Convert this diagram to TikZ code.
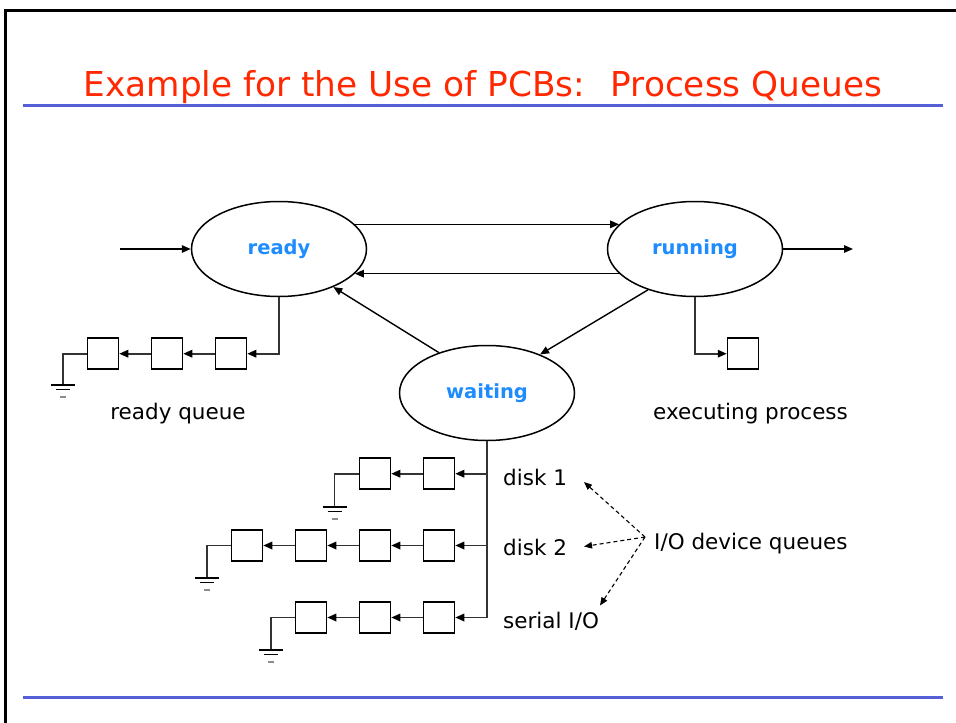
\documentclass[tikz,border=0pt]{standalone}
\usepackage{fontspec}
\setmainfont{DejaVu Sans}
\usetikzlibrary{arrows.meta,shapes.geometric}
\definecolor{titlered}{RGB}{255,40,0}
\definecolor{stateblue}{RGB}{30,140,255}
\definecolor{rulemid}{RGB}{85,95,215}
\begin{document}
\begin{tikzpicture}[x=1pt,y=-1pt,
  state/.style={draw,ellipse,line width=1.5pt,minimum width=175pt,minimum height=95pt,inner sep=0pt,text=stateblue,font=\fontsize{19.5}{22}\selectfont\bfseries},
  arr/.style={line width=1.4pt,-{Triangle[length=9pt,width=7.5pt]}},
  qarr/.style={line width=1.7pt,draw=black!80,-{Triangle[length=9pt,width=7.5pt,color=black]}},
  qline/.style={line width=1.7pt,draw=black!80},
  darr/.style={line width=1.1pt,dash pattern=on 4pt off 3pt,-{Triangle[length=8pt,width=6.5pt]}},
  box/.style={draw,line width=1.5pt,minimum size=31pt,inner sep=0pt},
  lbl/.style={font=\fontsize{21.5}{25}\selectfont,anchor=base west,inner sep=0pt},
  clbl/.style={font=\fontsize{21.5}{25}\selectfont,anchor=base,inner sep=0pt},
  rulebar/.style={line width=3pt,draw=rulemid},
  gnd/.pic={
    \draw[line width=1.5pt] (-12,0) -- (12,0);
    \draw[line width=1.5pt] (-7,4.5) -- (7,4.5);
    \draw[line width=1.2pt,black!45] (-3,12) -- (3,12);
  }
]
\useasboundingbox[fill=white] (0,0) rectangle (956,723);
% frame
\draw[line width=2.8pt] (5.5,723) -- (5.5,10.3) -- (956,10.3);
% title and rules
\node[font=\fontsize{34.3}{40}\selectfont,text=titlered,anchor=base,inner sep=0pt] (title) at (483,96) {Example for the Use of PCBs:~ Process Queues};
\draw[rulebar] (23,105) -- (943,105);
\draw[rulebar] (23,697) -- (943,697);

% states
\node[state] (ready) at (279,249) {ready};
\node[state] (running) at (695,249) {running};
\node[state] (waiting) at (487,393) {waiting};

\coordinate (in) at (120,249);
\coordinate (out) at (853,249);
\draw[arr] (in) -- (ready.west);
\draw[arr] (running.east) -- (out);
\draw[arr] (ready.18) -- (running.162);
\draw[arr] (running.198) -- (ready.-18);
\draw[arr] (waiting.140) -- (ready.-35);
\draw[arr] (running.221) -- (waiting.36);

% ready queue
\node[box] (rq1) at (103,353.7) {};
\node[box] (rq2) at (167,353.7) {};
\node[box] (rq3) at (231,353.7) {};
\draw[qarr] (ready.south) |- (rq3.east);
\draw[qarr] (rq3.west) -- (rq2.east);
\draw[qarr] (rq2.west) -- (rq1.east);
\coordinate (g1) at (63,385);
\draw[qline] (rq1.west) -| (g1);
\pic at (g1) {gnd};
\node[clbl] (rql) at (178,419) {ready queue};

% executing process
\node[box] (ex) at (743,353.7) {};
\draw[qarr] (running.south) |- (ex.west);
\node[clbl] (exl) at (750.5,419) {executing process};

% device queues
\node[box] (d1a) at (439,473.7) {};
\node[box] (d1b) at (375,473.7) {};
\node[box] (d2a) at (439,545.5) {};
\node[box] (d2b) at (375,545.5) {};
\node[box] (d2c) at (311,545.5) {};
\node[box] (d2d) at (247,545.5) {};
\node[box] (s1a) at (439,617.5) {};
\node[box] (s1b) at (375,617.5) {};
\node[box] (s1c) at (311,617.5) {};

\draw[qarr] (waiting.south) |- (s1a.east);
\draw[qarr] (waiting.south |- d1a) -- (d1a.east);
\draw[qarr] (waiting.south |- d2a) -- (d2a.east);
\draw[qarr] (d1a.west) -- (d1b.east);
\draw[qarr] (d2a.west) -- (d2b.east);
\draw[qarr] (d2b.west) -- (d2c.east);
\draw[qarr] (d2c.west) -- (d2d.east);
\draw[qarr] (s1a.west) -- (s1b.east);
\draw[qarr] (s1b.west) -- (s1c.east);

\coordinate (gd1) at (334.5,507);
\coordinate (gd2) at (207,578);
\coordinate (gs) at (271,650);
\draw[qline] (d1b.west) -| (gd1);
\draw[qline] (d2d.west) -| (gd2);
\draw[qline] (s1c.west) -| (gs);
\pic at (gd1) {gnd};
\pic at (gd2) {gnd};
\pic at (gs) {gnd};

\node[lbl] (disk1) at (503,485) {disk 1};
\node[lbl] (disk2) at (503,555) {disk 2};
\node[lbl] (serial) at (503,628) {serial I/O};
\node[lbl] (iodq) at (654,549) {I/O device queues};

\coordinate (io) at (645,537);
\coordinate (t1) at (584,482);
\coordinate (t2) at (584,546.5);
\coordinate (t3) at (600,605.5);
\draw[darr] (io) -- (t1);
\draw[darr] (io) -- (t2);
\draw[darr] (io) -- (t3);
\end{tikzpicture}
\end{document}
